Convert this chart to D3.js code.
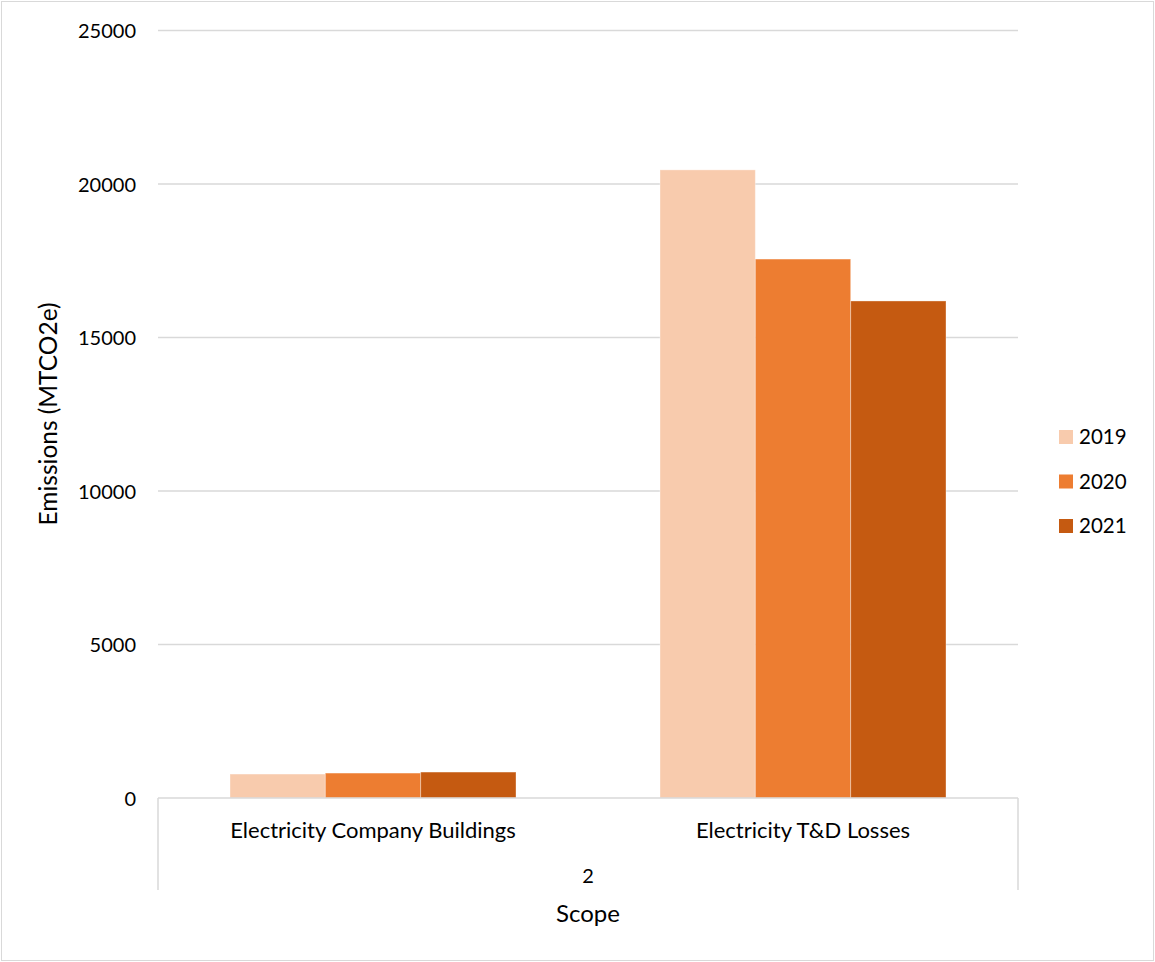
<!DOCTYPE html>
<html><head><meta charset="utf-8">
<script src="https://cdn.jsdelivr.net/npm/d3@7"></script>
<style>body{margin:0;background:#fff;} text{font-family:Lato,"Open Sans",sans-serif;fill:#000;}</style>
</head><body><svg id="c" width="1155" height="962"></svg>
<script>
const categories = ["Electricity Company Buildings", "Electricity T&D Losses"];
const years = ["2019", "2020", "2021"];
const values2019 = [780, 20460];
const values2020 = [812, 17555];
const values2021 = [845, 16190];
const yTicks = [0, 5000, 10000, 15000, 20000, 25000];
const colors = ["#F8CBAD", "#ED7D31", "#C55A11"];
const series = [values2019, values2020, values2021];

const svg = d3.select("#c");
svg.append("rect").attr("x",1.5).attr("y",1.5).attr("width",1152).attr("height",959)
  .attr("fill","#fff").attr("stroke","#d9d9d9");

const L=158, R=1018, T=30.5, B=798;
const y = d3.scaleLinear().domain([0,25000]).range([B,T]);
const x0 = d3.scaleBand().domain(categories).range([L,R]).paddingInner(0).paddingOuter(0);
const x1 = d3.scaleBand().domain(years).range([72, x0.bandwidth()-72]);

const g = svg.append("g");
g.selectAll(".grid").data(yTicks.filter(d=>d>0)).join("line")
  .attr("x1",L).attr("x2",R).attr("y1",d=>y(d)).attr("y2",d=>y(d))
  .attr("stroke","#d9d9d9").attr("stroke-width",1.5);

const yAxis = g.append("g").attr("transform",`translate(${L},0)`)
  .call(d3.axisLeft(y).tickValues(yTicks).tickFormat(d3.format("d")).tickSize(0).tickPadding(22));
yAxis.select(".domain").remove();
yAxis.selectAll("text").attr("font-size",20).attr("dy","0.35em").style("font-family","Lato,sans-serif");

years.forEach((yr,i)=>{
  g.selectAll(".b"+i).data(categories).join("rect")
    .attr("x",c=>x0(c)+x1(yr)).attr("width",x1.bandwidth())
    .attr("y",(c,j)=>y(series[i][j])).attr("height",(c,j)=>B-y(series[i][j]))
    .attr("fill",colors[i]).attr("stroke","rgba(255,255,255,0.35)").attr("stroke-width",1);
});

// x axis
g.append("line").attr("x1",L).attr("x2",R).attr("y1",B).attr("y2",B).attr("stroke","#d9d9d9").attr("stroke-width",1.5);
[L,R].forEach(xx=>g.append("line").attr("x1",xx).attr("x2",xx).attr("y1",B).attr("y2",890).attr("stroke","#d9d9d9").attr("stroke-width",1.5));
g.selectAll(".cat").data(categories).join("text")
  .attr("x",c=>x0(c)+x0.bandwidth()/2).attr("y",838).attr("text-anchor","middle").attr("font-size",22).text(d=>d);
g.append("text").attr("x",(L+R)/2).attr("y",883).attr("text-anchor","middle").attr("font-size",20).text("2");
g.append("text").attr("x",(L+R)/2).attr("y",922).attr("text-anchor","middle").attr("font-size",24).text("Scope");
g.append("text").attr("transform","translate(57,414) rotate(-90)").attr("text-anchor","middle").attr("font-size",24.5).text("Emissions (MTCO2e)");

// legend
const lg = svg.append("g");
years.forEach((yr,i)=>{
  const cy = 437 + i*44.5;
  lg.append("rect").attr("x",1059).attr("y",cy-7).attr("width",14).attr("height",14).attr("fill",colors[i]);
  lg.append("text").attr("x",1079).attr("y",cy).attr("dy","0.35em").attr("font-size",20.5).text(yr);
});
</script></body></html>
